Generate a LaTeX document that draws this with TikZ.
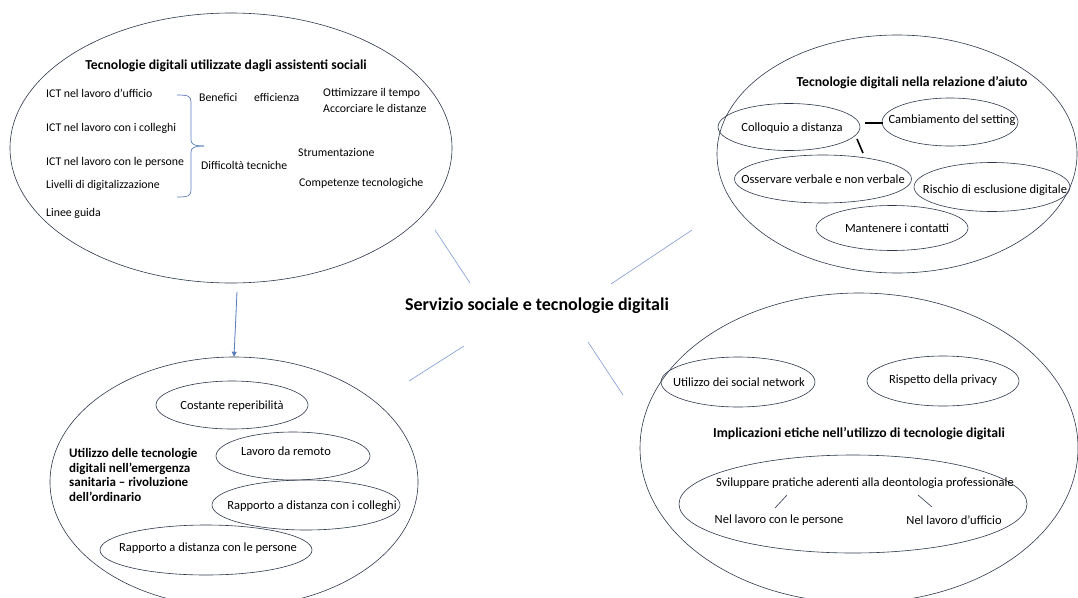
\documentclass[tikz,border=0pt]{standalone}
\usepackage{fontspec}
\setmainfont{Carlito}
\usetikzlibrary{shapes.geometric,arrows.meta}
\definecolor{outl}{RGB}{45,55,75}
\definecolor{conn}{RGB}{125,155,210}
\definecolor{brc}{RGB}{90,125,190}
\tikzset{
  bigell/.style={ellipse,draw=outl,line width=0.6pt,inner sep=0pt},
  smell/.style={ellipse,draw=outl,line width=0.6pt,inner sep=0pt},
  etxt/.style={inner sep=0pt,font=\fontsize{12.5}{14}\selectfont},
  txt/.style={inner sep=0pt,font=\fontsize{11.8}{14}\selectfont},
  ltxt/.style={txt,anchor=west},
  ttl/.style={inner sep=0pt,font=\fontsize{13.7}{15}\selectfont\bfseries},
  conline/.style={draw=conn,line width=0.6pt},
  thick link/.style={draw=black,line width=1.6pt},
  thin link/.style={draw=outl,line width=0.6pt}
}
\begin{document}
\begin{tikzpicture}[x=1pt,y=-1pt]
\useasboundingbox (0,0) rectangle (1078,597);
% central
\node[inner sep=0pt,font=\fontsize{18}{20}\selectfont\bfseries] (center) at (537,306) {Servizio sociale e tecnologie digitali};

% ---------- top-left ----------
\node[bigell,minimum width=442pt,minimum height=270pt] (tl) at (231,148) {};
\node[ttl] (tlt) at (226,66) {Tecnologie digitali utilizzate dagli assistenti sociali};
\node[ltxt] (a1) at (46,93) {ICT nel lavoro d’ufficio};
\node[ltxt] (a2) at (46,128) {ICT nel lavoro con i colleghi};
\node[ltxt] (a3) at (46,162) {ICT nel lavoro con le persone};
\node[ltxt] (a4) at (46,185) {Livelli di digitalizzazione};
\node[ltxt] (a5) at (46,213) {Linee guida};
\node[ltxt] (b1) at (199,97) {Benefici};
\node[ltxt] (b2) at (254,97) {efficienza};
\node[ltxt] (b3) at (323,93) {Ottimizzare il tempo};
\node[ltxt] (b4) at (323,108) {Accorciare le distanze};
\node[ltxt] (c1) at (298,152) {Strumentazione};
\node[ltxt] (c2) at (201,165) {Difficoltà tecniche};
\node[ltxt] (c3) at (299,183) {Competenze tecnologiche};
\coordinate (brT) at (177,95);
\coordinate (brB) at (177,197);
\coordinate (brM) at (204,146);
\draw[brc,line width=0.7pt] (brT) .. controls (188,95) and (191,96) .. (191,102) -- (191,140)
  .. controls (191,144) and (194,146) .. (brM);
\draw[brc,line width=0.7pt] (brM) .. controls (194,146) and (191,148) .. (191,152) -- (191,190)
  .. controls (191,196) and (188,197) .. (brB);

% ---------- top-right ----------
\node[bigell,minimum width=360pt,minimum height=238pt] (tr) at (897,154) {};
\node[ttl] (trt) at (912,83) {Tecnologie digitali nella relazione d’aiuto};
\node[smell,minimum width=142pt,minimum height=47pt] (coll) at (789,127) {};
\node[etxt] (collt) at (792,128) {Colloquio a distanza};
\node[smell,minimum width=136pt,minimum height=48pt] (camb) at (950,122) {};
\node[etxt] (cambt) at (952,120) {Cambiamento del setting};
\node[smell,minimum width=177pt,minimum height=48pt] (oss) at (823,179) {};
\node[etxt] (osst) at (823,179) {Osservare verbale e non verbale};
\node[smell,minimum width=156pt,minimum height=49pt] (risc) at (992,187) {};
\node[etxt] (risct) at (995,190) {Rischio di esclusione digitale};
\node[smell,minimum width=152pt,minimum height=45pt] (mant) at (892,228) {};
\node[etxt] (mantt) at (897,228) {Mantenere i contatti};
\coordinate (l1a) at (865,123);
\coordinate (l1b) at (883,123);
\coordinate (l2a) at (857,139);
\coordinate (l2b) at (863,153);
\draw[thick link] (l1a) -- (l1b);
\draw[thick link] (l2a) -- (l2b);

% ---------- bottom-left ----------
\node[bigell,minimum width=368pt,minimum height=250pt] (bl) at (234,482) {};
\node[smell,minimum width=152pt,minimum height=48pt] (cost) at (232,405) {};
\node[etxt] (costt) at (232,406) {Costante reperibilità};
\node[smell,minimum width=154pt,minimum height=48pt] (lav) at (293,456) {};
\node[etxt] (lavt) at (286,451) {Lavoro da remoto};
\node[smell,minimum width=188pt,minimum height=50pt] (rcol) at (306,505) {};
\node[etxt] (rcolt) at (312,506) {Rapporto a distanza con i colleghi};
\node[smell,minimum width=212pt,minimum height=50pt] (rper) at (206,550) {};
\node[etxt] (rpert) at (208,548) {Rapporto a distanza con le persone};
\node[inner sep=0pt,anchor=west,align=left,font=\fontsize{13}{14.5}\selectfont\bfseries] (blt) at (69,475)
  {Utilizzo delle tecnologie\\digitali nell’emergenza\\sanitaria – rivoluzione\\dell’ordinario};

% ---------- bottom-right ----------
\node[bigell,minimum width=438pt,minimum height=310pt] (br) at (859,448) {};
\node[smell,minimum width=154pt,minimum height=50pt] (soc) at (738,382) {};
\node[etxt] (soct) at (739,382) {Utilizzo dei social network};
\node[smell,minimum width=152pt,minimum height=50pt] (priv) at (943,381) {};
\node[etxt] (privt) at (943,380) {Rispetto della privacy};
\node[ttl] (brt) at (859,434) {Implicazioni etiche nell’utilizzo di tecnologie digitali};
\node[bigell,minimum width=348pt,minimum height=98pt] (svil) at (853,504) {};
\node[etxt] (svt) at (865,483) {Sviluppare pratiche aderenti alla deontologia professionale};
\node[etxt] (nlp) at (779,520) {Nel lavoro con le persone};
\node[etxt] (nlu) at (954,520) {Nel lavoro d’ufficio};
\coordinate (s1a) at (775,508);
\coordinate (s1b) at (787,495);
\coordinate (s2a) at (918,495);
\coordinate (s2b) at (932,507);
\draw[thin link] (s1a) -- (s1b);
\draw[thin link] (s2a) -- (s2b);

% ---------- connectors ----------
\coordinate (k1a) at (435,230); \coordinate (k1b) at (470,283);
\coordinate (k2a) at (692,230); \coordinate (k2b) at (611,284);
\coordinate (k3a) at (464,346); \coordinate (k3b) at (409,381);
\coordinate (k4a) at (588,342); \coordinate (k4b) at (623,395);
\draw[conline] (k1a) -- (k1b);
\draw[conline] (k2a) -- (k2b);
\draw[conline] (k3a) -- (k3b);
\draw[conline] (k4a) -- (k4b);
\coordinate (arrS) at (237,292);
\draw[draw=brc,line width=0.8pt,-{Triangle[length=5pt,width=5pt]},fill=brc] (arrS) -- (bl.north);
\end{tikzpicture}
\end{document}
